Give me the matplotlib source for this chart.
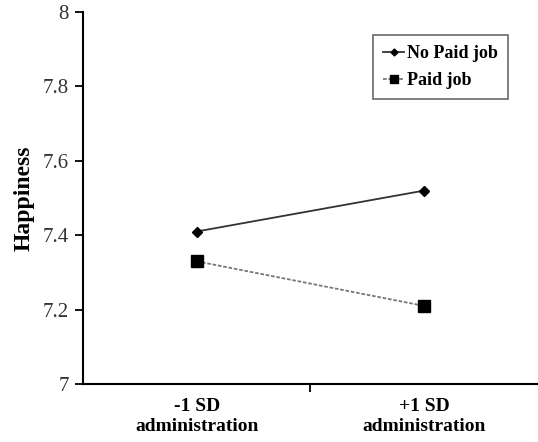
import matplotlib.pyplot as plt
import numpy as np

plt.rcParams['font.family'] = ['Liberation Serif', 'DejaVu Serif']

# data
categories = ["-1 SD\nadministration", "+1 SD\nadministration"]
no_paid = [7.41, 7.52]
paid = [7.33, 7.21]
yticks = [7, 7.2, 7.4, 7.6, 7.8, 8]

fig = plt.figure(figsize=(5.38, 4.42), dpi=100)
ax = fig.add_axes([0.154, 0.131, 0.846, 0.842])

x = np.array([0.5, 1.5])
ax.plot(x, no_paid, color='#333333', lw=1.3, marker='D', ms=5,
        mfc='black', mec='black', label='No Paid job')
ax.plot(x, paid, color='#777777', lw=1.3, ls=(0, (2, 1)), marker='s', ms=8,
        mfc='black', mec='black', label='Paid job')

ax.set_xlim(0, 2)
ax.set_ylim(7, 8)
ax.set_yticks(yticks)
ax.set_yticklabels(['7', '7.2', '7.4', '7.6', '7.8', '8'], fontsize=15, color='#333333')
ax.set_xticks(x)
ax.set_xticklabels(categories, fontsize=14, fontweight='bold', linespacing=1.25)
ax.set_xticks([1], minor=True)
ax.tick_params(axis='x', which='major', length=0, pad=10)
ax.tick_params(axis='x', which='minor', length=6, width=1.3, direction='out')
ax.tick_params(axis='y', length=6, width=1.3, direction='out', pad=4)

for s in ['top', 'right']:
    ax.spines[s].set_visible(False)
for s in ['left', 'bottom']:
    ax.spines[s].set_linewidth(1.5)

ax.set_ylabel('Happiness', fontsize=17, fontweight='bold', labelpad=6)

leg = ax.legend(loc='upper right', bbox_to_anchor=(0.934, 0.938), fancybox=False,
                edgecolor='#444444', prop={'weight': 'bold', 'size': 13},
                handlelength=1.2, handletextpad=0.15, borderpad=0.55, labelspacing=0.55,
                borderaxespad=0, markerscale=0.7)
leg.get_frame().set_linewidth(1.2)

fig.savefig('out.png', dpi=100)
